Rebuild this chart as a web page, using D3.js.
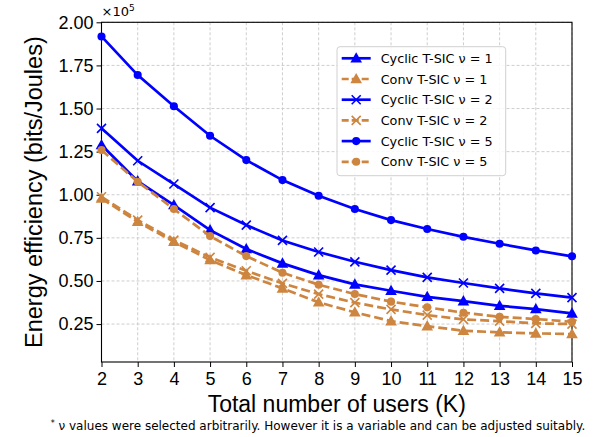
<!DOCTYPE html>
<html>
<head>
<meta charset="utf-8">
<script src="https://cdn.jsdelivr.net/npm/d3@7"></script>
<style>
  body { margin: 0; background: #fff; }
  svg { display: block; }
</style>
</head>
<body>
<svg id="chart" width="614" height="437"></svg>
<script>
(function () {
    "use strict";

    var users = [2, 3, 4, 5, 6, 7, 8, 9, 10, 11, 12, 13, 14, 15];
    var cyclicNu1 = [1.288, 1.079, 0.940, 0.795, 0.685, 0.602, 0.534, 0.480, 0.443, 0.408, 0.383, 0.356, 0.337, 0.312];
    var convNu1 = [0.979, 0.843, 0.727, 0.621, 0.534, 0.457, 0.376, 0.318, 0.267, 0.238, 0.211, 0.202, 0.196, 0.192];
    var cyclicNu2 = [1.385, 1.197, 1.062, 0.925, 0.824, 0.735, 0.668, 0.611, 0.563, 0.521, 0.488, 0.457, 0.428, 0.403];
    var convNu2 = [0.988, 0.853, 0.737, 0.637, 0.559, 0.486, 0.424, 0.374, 0.335, 0.302, 0.277, 0.267, 0.254, 0.250];
    var cyclicNu5 = [1.918, 1.694, 1.513, 1.342, 1.201, 1.085, 0.994, 0.917, 0.853, 0.801, 0.756, 0.716, 0.677, 0.643];
    var convNu5 = [1.259, 1.075, 0.917, 0.760, 0.644, 0.548, 0.478, 0.424, 0.380, 0.347, 0.316, 0.292, 0.279, 0.263];
    var yTicks = [0.25, 0.50, 0.75, 1.00, 1.25, 1.50, 1.75, 2.00];

    var blue = "#0000ff", orange = "#cd853f";
    var series = [
        { name: "Cyclic T-SIC \u03bd = 1", values: cyclicNu1, color: blue, dash: null, marker: "tri" },
        { name: "Conv T-SIC \u03bd = 1", values: convNu1, color: orange, dash: "9,4", marker: "tri" },
        { name: "Cyclic T-SIC \u03bd = 2", values: cyclicNu2, color: blue, dash: null, marker: "x" },
        { name: "Conv T-SIC \u03bd = 2", values: convNu2, color: orange, dash: "9,4", marker: "x" },
        { name: "Cyclic T-SIC \u03bd = 5", values: cyclicNu5, color: blue, dash: null, marker: "dot" },
        { name: "Conv T-SIC \u03bd = 5", values: convNu5, color: orange, dash: "9,4", marker: "dot" }
    ];

    var margin = { left: 101.5, top: 22.3, right: 42, bottom: 75 };
    var W = 614, H = 437;
    var w = W - margin.left - margin.right, h = H - margin.top - margin.bottom;

    var x = d3.scaleLinear().domain([2, 15]).range([0, w]);
    var y = d3.scaleLinear().domain([0.03, 2.0]).range([h, 0]);

    var svg = d3.select("#chart");
    var chart = svg.append("g").attr("transform", "translate(" + margin.left + "," + margin.top + ")");

    // grid
    chart.append("g").selectAll("line").data(users).enter().append("line")
        .attr("x1", function (d) { return x(d); }).attr("x2", function (d) { return x(d); })
        .attr("y1", 0).attr("y2", h)
        .attr("stroke", "#c8c8c8").attr("stroke-width", 0.9).attr("stroke-dasharray", "3,2");
    chart.append("g").selectAll("line").data(yTicks).enter().append("line")
        .attr("x1", 0).attr("x2", w)
        .attr("y1", function (d) { return y(d); }).attr("y2", function (d) { return y(d); })
        .attr("stroke", "#c8c8c8").attr("stroke-width", 0.9).attr("stroke-dasharray", "3,2");

    // axes
    var xaxis = d3.axisBottom(x).tickValues(users).tickSize(5).tickPadding(4).tickFormat(d3.format("d"));
    var yaxis = d3.axisLeft(y).tickValues(yTicks).tickSize(5).tickPadding(3).tickFormat(d3.format(".2f"));
    var gx = chart.append("g").attr("transform", "translate(0," + h + ")").call(xaxis);
    var gy = chart.append("g").call(yaxis);
    [gx, gy].forEach(function (g) {
        g.select(".domain").remove();
        g.selectAll("line").attr("stroke", "#000").attr("stroke-width", 1);
        g.selectAll("text").attr("fill", "#000")
            .style("font-family", "'Liberation Sans', Arial, sans-serif").style("font-size", "18px");
    });
    gx.selectAll("text").attr("dy", "0.8em");

    chart.append("rect").attr("width", w).attr("height", h)
        .attr("fill", "none").attr("stroke", "#000").attr("stroke-width", 1.1);

    // lines + markers
    var line = d3.line().x(function (d, i) { return x(users[i]); }).y(function (d) { return y(d); });

    function drawMarker(g, type, color, size) {
        if (type === "dot") {
            g.append("circle").attr("r", size * 0.45).attr("fill", color);
        } else if (type === "tri") {
            var s = size * 0.68;
            g.append("path").attr("d", "M0," + (-s) + "L" + (s * 0.95) + "," + (s * 0.7) + "L" + (-s * 0.95) + "," + (s * 0.7) + "Z")
                .attr("fill", color);
        } else {
            var a = size * 0.5;
            g.append("path").attr("d", "M" + (-a) + "," + (-a) + "L" + a + "," + a + "M" + (-a) + "," + a + "L" + a + "," + (-a))
                .attr("stroke", color).attr("stroke-width", 1.6).attr("fill", "none");
        }
    }

    series.forEach(function (s) {
        chart.append("path").datum(s.values)
            .attr("d", line).attr("fill", "none")
            .attr("stroke", s.color).attr("stroke-width", 2.7)
            .attr("stroke-dasharray", s.dash);
        s.values.forEach(function (v, i) {
            var g = chart.append("g").attr("transform", "translate(" + x(users[i]) + "," + y(v) + ")");
            drawMarker(g, s.marker, s.color, 9);
        });
    });

    // offset text
    var off = svg.append("text").attr("x", margin.left).attr("y", 16)
        .style("font-family", "'DejaVu Sans', sans-serif").style("font-size", "13px");
    off.append("tspan").text("\u00d710");
    off.append("tspan").attr("dy", -5).style("font-size", "9px").text("5");

    // legend
    var lg = svg.append("g").attr("transform", "translate(337,46.7)");
    lg.append("rect").attr("width", 168.7).attr("height", 129).attr("rx", 3)
        .attr("fill", "#fff").attr("fill-opacity", 0.85).attr("stroke", "#d0d0d0").attr("stroke-width", 1);
    series.forEach(function (s, i) {
        var yy = 11.6 + i * 20.7;
        lg.append("line").attr("x1", 4.7).attr("x2", 33.7).attr("y1", yy).attr("y2", yy)
            .attr("stroke", s.color).attr("stroke-width", 2.7).attr("stroke-dasharray", s.dash ? "7,3" : null);
        var mg = lg.append("g").attr("transform", "translate(19.2," + yy + ")");
        drawMarker(mg, s.marker, s.color, 9);
        lg.append("text").attr("x", 43.7).attr("y", yy).attr("dy", "0.36em")
            .style("font-family", "'DejaVu Sans', sans-serif").style("font-size", "12.8px")
            .text(s.name);
    });

    // labels
    svg.append("text").attr("x", margin.left + w / 2).attr("y", 412).attr("text-anchor", "middle")
        .style("font-family", "'Liberation Sans', Arial, sans-serif").style("font-size", "23px")
        .text("Total number of users (K)");
    svg.append("text").attr("transform", "translate(42," + (margin.top + h / 2) + ") rotate(-90)")
        .attr("text-anchor", "middle")
        .style("font-family", "'Liberation Sans', Arial, sans-serif").style("font-size", "23.5px")
        .text("Energy efficiency (bits/Joules)");
    var fn = svg.append("text").attr("x", 318).attr("y", 430).attr("text-anchor", "middle")
        .style("font-family", "'DejaVu Sans', sans-serif").style("font-size", "12px");
    fn.append("tspan").attr("dy", -4).style("font-size", "8px").text("*");
    fn.append("tspan").attr("dy", 4).text(" \u03bd values were selected arbitrarily. However it is a variable and can be adjusted suitably.");
})();
</script>
</body>
</html>
